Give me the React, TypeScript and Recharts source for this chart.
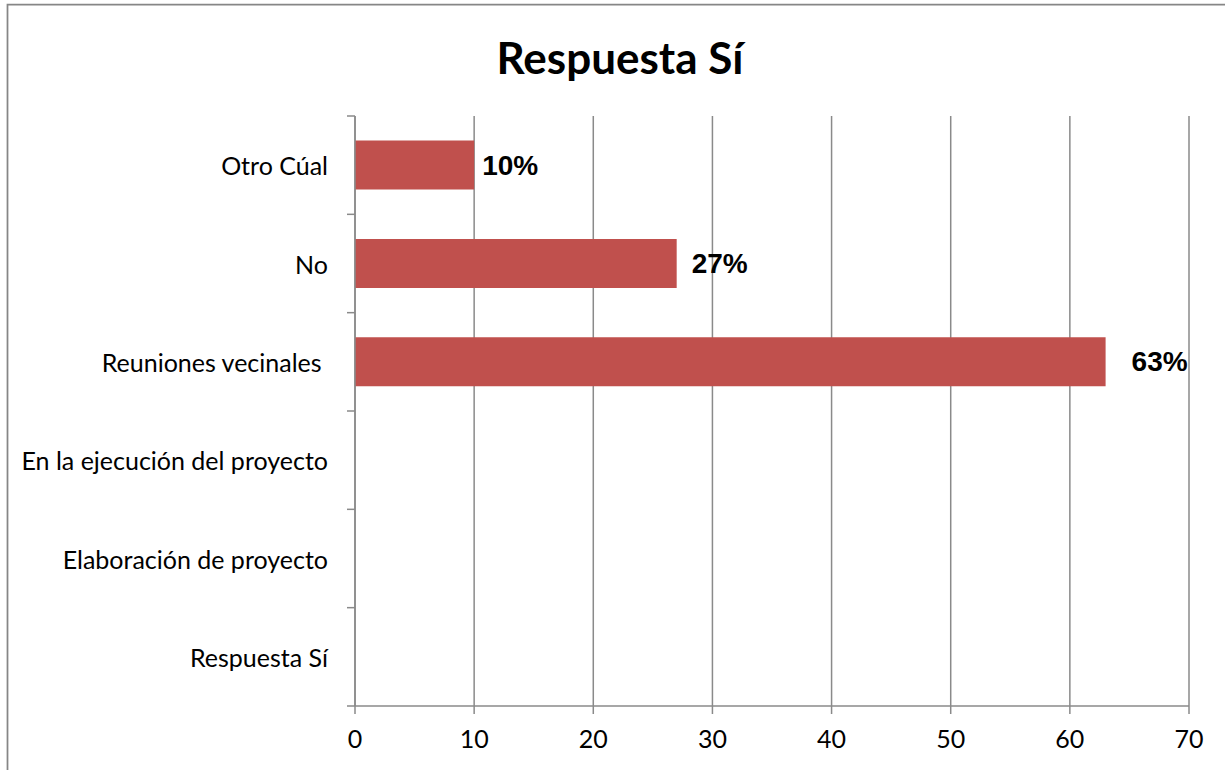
import React from 'react';
import { BarChart, Bar, XAxis, YAxis, CartesianGrid, LabelList } from 'recharts';

const categories = [
  'Otro Cúal',
  'No',
  'Reuniones vecinales ',
  'En la ejecución del proyecto',
  'Elaboración de proyecto',
  'Respuesta Sí',
];
const values: (number | null)[] = [10, 27, 63, null, null, null];
const valueLabels = ['10%', '27%', '63%', '', '', ''];
const xTicks = [0, 10, 20, 30, 40, 50, 60, 70];
const labelNudge = [8, 15, 26, 0, 0, 0];

const data = categories.map((c, i) => ({ name: c, value: values[i], label: valueLabels[i] }));

const GRAY = '#8a8a8a';
const FONT = 'Lato, "Open Sans", sans-serif';

const ValueLabel = (props: any) => {
  const { x, y, width, height, index, value } = props;
  if (!value) return null;
  return (
    <text
      x={x + width + labelNudge[index]}
      y={y + height / 2}
      dominantBaseline="central"
      fontFamily='"Liberation Sans", Arial, sans-serif'
      fontWeight="bold"
      fontSize={28}
      fill="#000"
    >
      {value}
    </text>
  );
};

const CategoryTick = (props: any) => {
  const { x, y, payload, index, visibleTicksCount } = props;
  const half = payload && typeof payload.offset === 'number' && payload.offset > 0 ? payload.offset : 49.17;
  const axisX = x + 27;
  const isLast = index === (visibleTicksCount ?? categories.length) - 1;
  return (
    <g>
      <line x1={axisX - 8} x2={axisX} y1={y - half} y2={y - half} stroke={GRAY} strokeWidth={1.5} />
      {isLast && <line x1={axisX - 8} x2={axisX} y1={y + half} y2={y + half} stroke={GRAY} strokeWidth={1.5} />}
      <text
        x={x}
        y={y}
        textAnchor="end"
        dominantBaseline="central"
        fill="#000"
        fontFamily={FONT}
        fontSize={25}
        style={{ whiteSpace: 'pre' }}
      >
        {payload.value}
      </text>
    </g>
  );
};

export default function App() {
  return (
    <>
      <style>{'html,body{margin:0;padding:0;background:#fff;overflow:hidden;}'}</style>
      <div style={{ position: 'relative', width: 1225, height: 770, overflow: 'hidden', background: '#fff' }}>
        <div
          style={{
            position: 'absolute',
            left: 0,
            width: 1240,
            top: 30,
            textAlign: 'center',
            fontFamily: FONT,
            fontWeight: 'bold',
            fontSize: 44,
            lineHeight: '54px',
            color: '#000',
          }}
        >
          Respuesta Sí
        </div>
        <div style={{ position: 'absolute', left: 0, top: 0 }}>
          <BarChart
            width={1225}
            height={770}
            data={data}
            layout="vertical"
            margin={{ top: 116, right: 36, bottom: 24, left: 15 }}
            barCategoryGap="25%"
          >
            <CartesianGrid horizontal={false} vertical={true} stroke={GRAY} strokeWidth={1.5} />
            <XAxis
              type="number"
              domain={[0, 70]}
              ticks={xTicks}
              interval={0}
              height={40}
              axisLine={{ stroke: GRAY, strokeWidth: 1.5 }}
              tickLine={{ stroke: GRAY, strokeWidth: 1.5 }}
              tickSize={8}
              tickMargin={16}
              tick={{ fill: '#000', fontFamily: FONT, fontSize: 25 }}
            />
            <YAxis
              type="category"
              dataKey="name"
              width={340}
              interval={0}
              axisLine={{ stroke: GRAY, strokeWidth: 1.5 }}
              tickLine={false}
              tickSize={8}
              tickMargin={19}
              tick={<CategoryTick />}
            />
            <Bar dataKey="value" fill="#C0504D" isAnimationActive={false}>
              <LabelList dataKey="label" content={<ValueLabel />} />
            </Bar>
          </BarChart>
        </div>
        <svg
          width={1225}
          height={770}
          style={{ position: 'absolute', left: 0, top: 0, pointerEvents: 'none' }}
        >
          <path d="M 7.5 770 L 7.5 4.5 L 1225 4.5" fill="none" stroke="#868686" strokeWidth={1.75} />
        </svg>
      </div>
    </>
  );
}
